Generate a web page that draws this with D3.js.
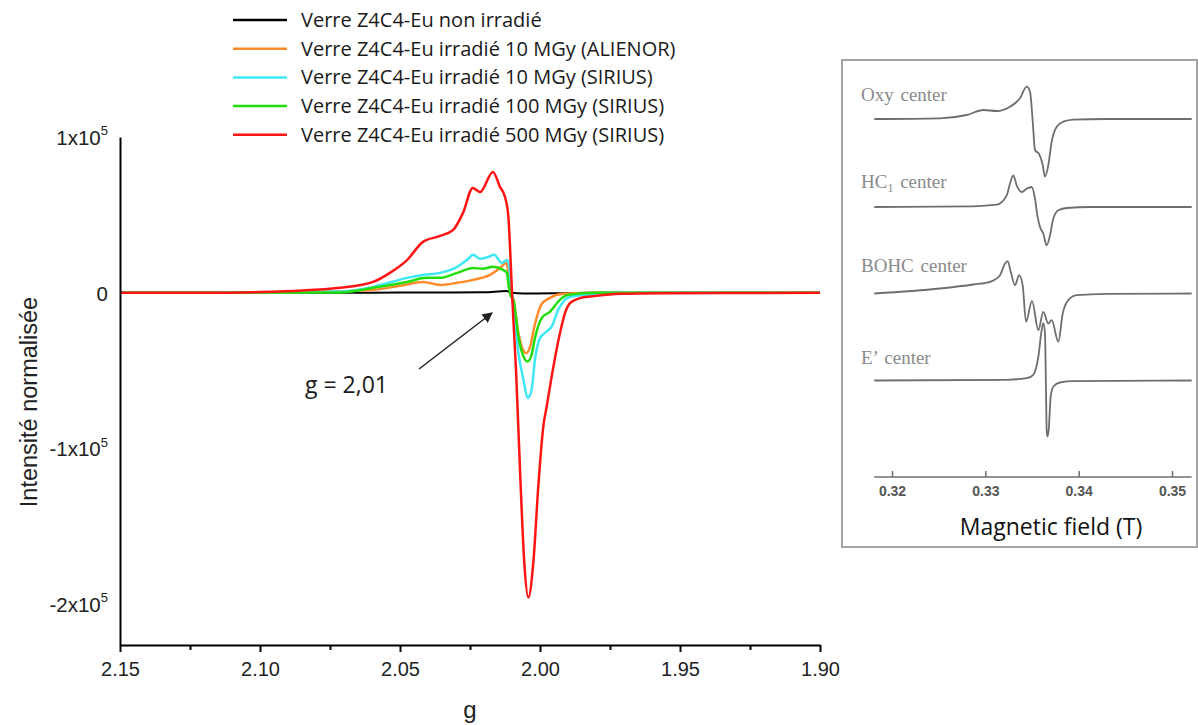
<!DOCTYPE html>
<html>
<head>
<meta charset="utf-8">
<script src="https://cdn.jsdelivr.net/npm/d3@7"></script>
<style>
  html, body { margin: 0; padding: 0; background: #fff; }
  svg { display: block; }
</style>
</head>
<body>
<svg id="chart" width="1198" height="725"></svg>
<script>
// ---------------- DATA ----------------
const seriesNames = [
  "Verre Z4C4-Eu non irradié",
  "Verre Z4C4-Eu irradié 10 MGy (ALIENOR)",
  "Verre Z4C4-Eu irradié 10 MGy (SIRIUS)",
  "Verre Z4C4-Eu irradié 100 MGy (SIRIUS)",
  "Verre Z4C4-Eu irradié 500 MGy (SIRIUS)"
];
const seriesColors = ["#000000", "#ff8c2a", "#3ee8f6", "#22dd0e", "#ff1414"];

// [g, normalised intensity]
const blackData = [
  [2.150, 0], [2.100, 0], [2.060, 100], [2.040, 200], [2.020, 400], [2.012, 1100],
  [2.0100, 0], [2.006, -400], [1.995, -300], [1.980, 0], [1.900, 0]
];
const orangeData = [
  [2.150, 0], [2.110, 0], [2.085, 300], [2.0596, 1900], [2.050, 4500], [2.0418, 7000],
  [2.0357, 5100], [2.0296, 6400], [2.0239, 8300], [2.0179, 11500], [2.0143, 16000],
  [2.0121, 19200], [2.0114, 14000], [2.0107, 2000], [2.0095, -4500], [2.0077, -25800],
  [2.0061, -36500], [2.0049, -38700], [2.0035, -34400], [2.0020, -21600],
  [1.9996, -7700], [1.9966, -3400], [1.9918, -640], [1.980, 0], [1.900, 0]
];
const cyanData = [
  [2.150, 0], [2.120, 0], [2.1036, 300], [2.0714, 800], [2.0596, 3800], [2.0475, 9600],
  [2.0418, 11500], [2.0357, 12800], [2.0296, 16700], [2.0261, 21000], [2.0239, 24400],
  [2.0214, 21800], [2.0186, 23000], [2.0164, 24400], [2.0136, 19200], [2.0118, 21000],
  [2.0111, 18000], [2.0104, 3000], [2.0095, -6600], [2.0077, -38700], [2.0059, -55800],
  [2.0044, -67500], [2.0030, -62200], [2.0018, -42900], [2.0000, -29100],
  [1.9976, -24800], [1.9958, -21600], [1.9935, -10900], [1.9911, -4500],
  [1.9887, -2400], [1.9833, -1300], [1.975, 0], [1.900, 0]
];
const greenData = [
  [2.150, 0], [2.120, 0], [2.1036, 200], [2.0714, 200], [2.0596, 3200], [2.0475, 7000],
  [2.0404, 9600], [2.0357, 9600], [2.0296, 12800], [2.0239, 16000], [2.0204, 15400],
  [2.0168, 16700], [2.0132, 14700], [2.0118, 12800], [2.0113, 6000], [2.0104, -2400],
  [2.0095, -4500], [2.0077, -28000], [2.0059, -40800], [2.0044, -44000],
  [2.0030, -39700], [2.0018, -29000], [1.9994, -16200], [1.9964, -12000],
  [1.9929, -4500], [1.9899, -1300], [1.980, 0], [1.900, 0]
];
const redData = [
  [2.150, 0], [2.120, 0], [2.100, 500], [2.085, 1500], [2.0714, 3200], [2.0596, 7000],
  [2.0536, 12800], [2.0475, 21000], [2.0418, 32700], [2.0357, 36500], [2.0310, 40400],
  [2.0275, 51300], [2.0240, 67300], [2.0214, 64700], [2.0168, 77600], [2.0143, 68000],
  [2.0125, 61500], [2.0113, 48900], [2.0104, 16900], [2.0100, 0], [2.00857, -49400],
  [2.00714, -113500], [2.00561, -173300], [2.00417, -195500], [2.00238, -173000],
  [2.00060, -124000], [1.99881, -85700], [1.99761, -72900], [1.99582, -53600],
  [1.99286, -25800], [1.99107, -13000], [1.98929, -6600], [1.98571, -3400],
  [1.97975, -1900], [1.97143, -640], [1.9571, -200], [1.900, 0]
];
const seriesData = [blackData, orangeData, cyanData, greenData, redData];

const gTicks = [2.15, 2.10, 2.05, 2.00, 1.95, 1.90];
const gTickLabels = ["2.15", "2.10", "2.05", "2.00", "1.95", "1.90"];
const gMinorTicks = [2.125, 2.075, 2.025, 1.975, 1.925];
const yTicks = [1e5, 0, -1e5, -2e5];
const yTickMantissa = ["1", "0", "-1", "-2"];

// Inset: reference spectra, [magnetic field (T), relative intensity]
const insetNames = ["Oxy center", "HC1 center", "BOHC center", "E’ center"];
const oxyCurve = [
  [0.31810, 0], [0.32514, 0.7], [0.32800, 4], [0.32978, 9], [0.33122, 8], [0.33264, 12.3],
  [0.33371, 20.7], [0.33443, 32.3], [0.33479, 27.3], [0.33508, -2.7], [0.33532, -31],
  [0.33578, -35.3], [0.33615, -46], [0.33639, -57.7], [0.33675, -46], [0.33711, -22.7],
  [0.33765, -7.7], [0.33835, -2.7], [0.33943, -0.7], [0.34300, 0], [0.35211, 0]
];
const hc1Curve = [
  [0.31810, 0], [0.32871, 0.7], [0.33122, 2.3], [0.33229, 11.7], [0.33264, 23.3],
  [0.33300, 31.7], [0.33336, 21.7], [0.33390, 15], [0.33443, 18.3], [0.33497, 20],
  [0.33532, 8.3], [0.33557, -8.3], [0.33586, -20], [0.33621, -26.7], [0.33657, -38.3],
  [0.33693, -28.3], [0.33728, -11.7], [0.33782, -3.3], [0.33871, -1], [0.34122, 0], [0.35211, 0]
];
const bohcCurve = [
  [0.31810, 0], [0.32514, 5], [0.32871, 9], [0.33050, 11.7], [0.33157, 18.3], [0.33211, 30],
  [0.33240, 32.3], [0.33272, 21.7], [0.33318, 8.3], [0.33361, 18.3], [0.33400, 8.3],
  [0.33436, -28.3], [0.33500, -7.3], [0.33568, -36.7], [0.33621, -18.3], [0.33675, -30],
  [0.33711, -26.7], [0.33782, -48.3], [0.33829, -20], [0.33889, -6.7], [0.33979, -1.7],
  [0.34300, -0.3], [0.35211, 0]
];
const ePrimeCurve = [
  [0.31810, 0], [0.33229, 0.7], [0.33443, 2.3], [0.33514, 5.7], [0.33568, 24], [0.33604, 50.7],
  [0.33621, 57.3], [0.33639, 47.3], [0.33650, -9.3], [0.33657, -49.3], [0.33664, -56],
  [0.33679, -49.3], [0.33700, -16], [0.33729, -6], [0.33800, -2], [0.33943, -0.7], [0.35211, 0]
];
const insetCurves = [oxyCurve, hc1Curve, bohcCurve, ePrimeCurve];
const fieldTicks = [0.32, 0.33, 0.34, 0.35];

// ---------------- CHART ----------------
const svg = d3.select("#chart");
const sans = "'Liberation Sans', Arial, sans-serif";
const calib = "'Open Sans', 'Noto Sans', sans-serif";
const serif = "'Liberation Serif', 'Times New Roman', serif";

const x = d3.scaleLinear().domain([2.15, 1.90]).range([120, 820]);
const y = d3.scaleLinear().domain([-2.26e5, 1e5]).range([645, 137]);

// Series lines
const line = d3.line()
  .x(d => x(d[0])).y(d => y(d[1]))
  .curve(d3.curveMonotoneX);

const gSeries = svg.append("g");
seriesData.forEach((data, i) => {
  gSeries.append("path")
    .datum(data)
    .attr("d", line)
    .attr("fill", "none")
    .attr("stroke", seriesColors[i])
    .attr("stroke-width", i === 0 ? 2 : 2.5)
    .attr("stroke-linejoin", "round");
});

// X axis
const xAxis = svg.append("g")
  .attr("transform", `translate(0,${y.range()[0]})`)
  .call(d3.axisBottom(x).tickValues(gTicks)
    .tickFormat((d, i) => gTickLabels[i])
    .tickSizeInner(7).tickSizeOuter(0).tickPadding(10));
xAxis.select(".domain").attr("stroke-width", 2);
xAxis.selectAll(".tick line").attr("stroke-width", 2);
xAxis.selectAll("text").attr("font-family", sans).attr("font-size", 20).attr("fill", "#222");

const xMinor = svg.append("g")
  .attr("transform", `translate(0,${y.range()[0]})`)
  .call(d3.axisBottom(x).tickValues(gMinorTicks).tickFormat("").tickSizeInner(5).tickSizeOuter(0));
xMinor.select(".domain").remove();
xMinor.selectAll(".tick line").attr("stroke-width", 2);

// Y axis (line + labels, no tick marks)
const yAxis = svg.append("g")
  .attr("transform", `translate(${x.range()[0]},0)`)
  .call(d3.axisLeft(y).tickValues(yTicks).tickSize(0).tickSizeOuter(0).tickPadding(12).tickFormat(""));
yAxis.select(".domain").attr("stroke-width", 2);
yAxis.selectAll(".tick").each(function(d, i) {
  const t = d3.select(this).select("text")
    .attr("font-family", sans).attr("font-size", 20.5).attr("fill", "#222")
    .attr("x", -12).attr("dy", "0.35em").attr("text-anchor", "end");
  if (d === 0) {
    t.text("0");
  } else {
    t.append("tspan").text(yTickMantissa[i] + "x10");
    t.append("tspan").attr("font-size", 13).attr("dy", "-0.75em").text("5");
  }
});

// Axis titles
svg.append("text")
  .attr("x", 470).attr("y", 718)
  .attr("text-anchor", "middle")
  .attr("font-family", sans).attr("font-size", 24).attr("fill", "#222")
  .text("g");
svg.append("text")
  .attr("transform", "translate(37,402) rotate(-90)")
  .attr("text-anchor", "middle")
  .attr("font-family", sans).attr("font-size", 23.5).attr("fill", "#222")
  .text("Intensité normalisée");

// Legend
const legend = svg.append("g");
seriesNames.forEach((name, i) => {
  const ly = 20 + i * 28.7;
  legend.append("line")
    .attr("x1", 233).attr("x2", 287).attr("y1", ly).attr("y2", ly)
    .attr("stroke", seriesColors[i]).attr("stroke-width", 2.5);
  legend.append("text")
    .attr("x", 301).attr("y", ly + 7)
    .attr("font-family", calib).attr("font-size", 20).attr("fill", "#1a1a1a")
    .text(name);
});

// Annotation
const defs = svg.append("defs");
defs.append("marker")
  .attr("id", "arrow").attr("viewBox", "0 0 10 10")
  .attr("refX", 9).attr("refY", 5)
  .attr("markerWidth", 7).attr("markerHeight", 7)
  .attr("orient", "auto")
  .append("path").attr("d", "M0,0 L10,5 L0,10 z").attr("fill", "#222");
svg.append("line")
  .attr("x1", 419).attr("y1", 369).attr("x2", 492).attr("y2", 313)
  .attr("stroke", "#222").attr("stroke-width", 1.5)
  .attr("marker-end", "url(#arrow)");
svg.append("text")
  .attr("x", 305).attr("y", 393)
  .attr("font-family", calib).attr("font-size", 23).attr("fill", "#1a1a1a")
  .text("g = 2,01");

// ---------------- INSET ----------------
const inset = svg.append("g");
inset.append("rect")
  .attr("x", 842).attr("y", 60).attr("width", 355).attr("height", 487)
  .attr("fill", "#fff").attr("stroke", "#a4a4a4").attr("stroke-width", 2);

const bx = d3.scaleLinear().domain([0.32, 0.35]).range([892, 1172]);
const baselines = [119, 207, 293.5, 380.5];
const labelBaselines = [101, 188, 272, 364];

insetCurves.forEach((curve, i) => {
  const by = d3.scaleLinear().domain([-60, 60]).range([baselines[i] + 60, baselines[i] - 60]);
  const l = d3.line().x(d => bx(d[0])).y(d => by(d[1])).curve(d3.curveMonotoneX);
  inset.append("path").datum(curve).attr("d", l)
    .attr("fill", "none").attr("stroke", "#6e6e6e").attr("stroke-width", 1.8);
});

insetNames.forEach((name, i) => {
  const t = inset.append("text")
    .attr("x", 861).attr("y", labelBaselines[i])
    .attr("font-family", serif).attr("font-size", 19).attr("fill", "#8a8a8a")
    .attr("word-spacing", 2);
  if (name.startsWith("HC1")) {
    t.append("tspan").text("HC");
    t.append("tspan").attr("font-size", 12).attr("dy", 4).text("1");
    t.append("tspan").attr("dy", -4).text(" center");
  } else {
    t.text(name);
  }
});

// Inset field axis
const fAxisY = 477;
inset.append("line")
  .attr("x1", bx(0.3181)).attr("x2", bx(0.3521))
  .attr("y1", fAxisY).attr("y2", fAxisY)
  .attr("stroke", "#6e6e6e").attr("stroke-width", 1.6);
const fAxis = inset.append("g")
  .attr("transform", `translate(0,${fAxisY})`)
  .call(d3.axisBottom(bx).tickValues(fieldTicks).tickFormat(d3.format(".2f"))
    .tickSizeInner(-6).tickSizeOuter(0).tickPadding(9));
fAxis.select(".domain").remove();
fAxis.selectAll(".tick line").attr("stroke", "#6e6e6e").attr("stroke-width", 1.5);
fAxis.selectAll("text").attr("font-family", sans).attr("font-size", 14)
  .attr("fill", "#555").attr("font-weight", "bold");

inset.append("text")
  .attr("x", 1051).attr("y", 535)
  .attr("text-anchor", "middle")
  .attr("font-family", calib).attr("font-size", 23).attr("fill", "#111")
  .text("Magnetic field (T)");
</script>
</body>
</html>
